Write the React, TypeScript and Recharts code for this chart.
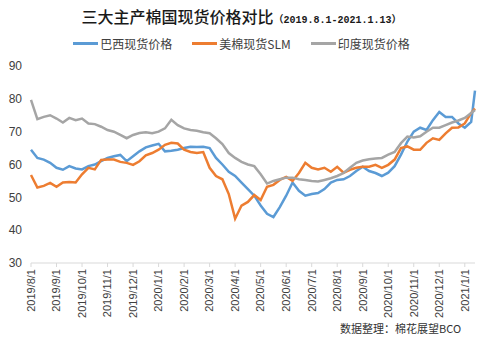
import { Legend, Line, LineChart, XAxis, YAxis } from "recharts"

const monthLabels = [
  "2019/8/1", "2019/9/1", "2019/10/1", "2019/11/1", "2019/12/1", "2020/1/1",
  "2020/2/1", "2020/3/1", "2020/4/1", "2020/5/1", "2020/6/1", "2020/7/1",
  "2020/8/1", "2020/9/1", "2020/10/1", "2020/11/1", "2020/12/1", "2021/1/1",
]

// sample positions in months after 2019/8/1 (roughly weekly, last = 2021/1/13)
const samplePos = [
  0, 0.25, 0.5, 0.75, 1, 1.25, 1.5, 1.75, 2, 2.25, 2.5, 2.75,
  3, 3.25, 3.5, 3.75, 4, 4.25, 4.5, 4.75, 5, 5.25, 5.5, 5.75,
  6, 6.25, 6.5, 6.75, 7, 7.25, 7.5, 7.75, 8, 8.25, 8.5, 8.75,
  9, 9.25, 9.5, 9.75, 10, 10.25, 10.5, 10.75, 11, 11.25, 11.5, 11.75,
  12, 12.25, 12.5, 12.75, 13, 13.25, 13.5, 13.75, 14, 14.25, 14.5, 14.75,
  15, 15.25, 15.5, 15.75, 16, 16.25, 16.5, 16.75, 17, 17.25, 17.4,
]

const brazil = [
  64.5, 62, 61.5, 60.5, 59, 58.4, 59.5, 58.8, 58.5, 59.5, 60, 61,
  62, 62.5, 62.9, 61, 62.5, 64, 65.2, 65.8, 66.3, 64, 64.2, 64.5,
  65, 65.4, 65.3, 65.4, 65, 62, 60, 57.8, 56.5, 54.5, 52.5, 50.5,
  47.5, 45, 44, 47, 50.5, 54.5, 52, 50.5, 51, 51.3, 52.5, 54.5,
  55.3, 55.5, 56.5, 58, 59.3, 58, 57.4, 56.5, 57.5, 59.5, 63, 67,
  70, 71.2, 70.5, 73.5, 76, 74.5, 74.5, 72.5, 71.2, 73, 82.5,
]

const usSlm = [
  56.8, 53, 53.5, 54.4, 53.2, 54.5, 54.7, 54.5, 57, 59, 58.5, 61.4,
  61.5, 61.5, 60.8, 60.5, 59.9, 61, 62.8, 63.5, 64.5, 66, 66.6, 66.4,
  64.5, 63.8, 63.5, 63.8, 59, 56.5, 55.5, 51, 43.5, 47.5, 48.6, 50.7,
  49.2, 53.2, 53.8, 55.3, 56.2, 55, 57.4, 60.5, 59, 58.5, 59, 57.8,
  59.3, 57.5, 58.4, 59, 59.3, 59.3, 59.9, 59, 59.9, 61.5, 65, 65.5,
  64.5, 64.5, 66.6, 68, 67.5, 69.5, 71.2, 71.3, 72.5, 75.7, 77,
]

const india = [
  79.7, 73.8, 74.5, 75, 74, 72.8, 74.2, 73.5, 74, 72.5, 72.3, 71.5,
  70.5, 70, 69, 68, 69, 69.6, 69.8, 69.5, 70, 71, 73.6, 72,
  71, 70.5, 70.3, 69.8, 69.5, 68, 66.2, 63.5, 62, 60.8, 60, 59.5,
  57, 54.2, 55, 55.5, 56, 56, 55.5, 55.3, 55, 54.8, 55.3, 55.8,
  56.5, 57.4, 59, 60.5, 61.2, 61.6, 61.8, 62, 63, 63.8, 66.5, 68.5,
  68.2, 68.6, 70, 71.2, 71.2, 72, 72.8, 73.4, 74.2, 75.7, 76.6,
]

const yTicks = [30, 40, 50, 60, 70, 80, 90]

const series = [
  { key: "brazil", name: "巴西现货价格", color: "#5B9BD5" },
  { key: "usSlm", name: "美棉现货SLM", color: "#ED7D31" },
  { key: "india", name: "印度现货价格", color: "#A5A5A5" },
]

const data = samplePos.map((m, i) => ({
  m,
  brazil: brazil[i],
  usSlm: usSlm[i],
  india: india[i],
}))

const cjk = "'Noto Sans CJK SC', 'Noto Sans', sans-serif"

function MonthTick(props: any) {
  const { x, y, payload } = props
  return (
    <text
      x={x}
      y={y}
      transform={`rotate(-90, ${x}, ${y})`}
      textAnchor="end"
      dy="0.35em"
      fontSize={11}
      fontFamily="'Liberation Sans', Arial, sans-serif"
      fill="#404040"
    >
      {monthLabels[payload.value]}
    </text>
  )
}

function LegendContent() {
  return (
    <div style={{ display: "flex", justifyContent: "center", gap: 20, fontFamily: cjk, fontSize: 12, color: "#404040" }}>
      {series.map((s) => (
        <div key={s.key} style={{ display: "flex", alignItems: "center" }}>
          <span style={{ display: "inline-block", width: 25, height: 3, background: s.color, marginRight: 2 }} />
          <span>{s.name}</span>
        </div>
      ))}
    </div>
  )
}

export default function App() {
  return (
    <div style={{ position: "absolute", left: 0, top: 0, width: 483, height: 338, background: "#fff" }}>
      <div
        style={{
          position: "absolute",
          top: 4,
          left: 0,
          width: 483,
          textAlign: "center",
          fontFamily: cjk,
          fontSize: 16,
          fontWeight: 500,
          color: "#1a1a1a",
          whiteSpace: "nowrap",
        }}
      >
        三大主产棉国现货价格对比
        <span style={{ fontFamily: "'Liberation Mono', 'Noto Sans CJK SC', monospace", fontSize: 10, fontWeight: 700 }}>
          （2019.8.1-2021.1.13）
        </span>
      </div>
      <LineChart width={483} height={338} data={data} margin={{ top: 66, right: 8, left: 8, bottom: 0 }}>
        <XAxis
          dataKey="m"
          type="number"
          domain={[0, 17.4]}
          ticks={monthLabels.map((_, i) => i)}
          interval={0}
          height={75}
          stroke="#d9d9d9"
          tickSize={4}
          tickMargin={2}
          tick={<MonthTick />}
        />
        <YAxis
          domain={[30, 90]}
          ticks={yTicks}
          width={23}
          axisLine={false}
          tickLine={false}
          tickSize={0}
          tickMargin={9}
          tick={{ fontSize: 12, fill: "#404040", fontFamily: "'Liberation Sans', Arial, sans-serif" }}
        />
        <Legend
          verticalAlign="middle"
          layout="horizontal"
          content={<LegendContent />}
          wrapperStyle={{ top: 35, left: 0, width: 483 }}
        />
        {series.map((s) => (
          <Line
            key={s.key}
            type="linear"
            dataKey={s.key}
            name={s.name}
            stroke={s.color}
            strokeWidth={2.5}
            dot={false}
            isAnimationActive={false}
          />
        ))}
      </LineChart>
      <div
        style={{
          position: "absolute",
          top: 320,
          left: 340,
          fontFamily: cjk,
          fontSize: 11,
          color: "#333",
          whiteSpace: "nowrap",
        }}
      >
        数据整理：棉花展望BCO
      </div>
    </div>
  )
}
